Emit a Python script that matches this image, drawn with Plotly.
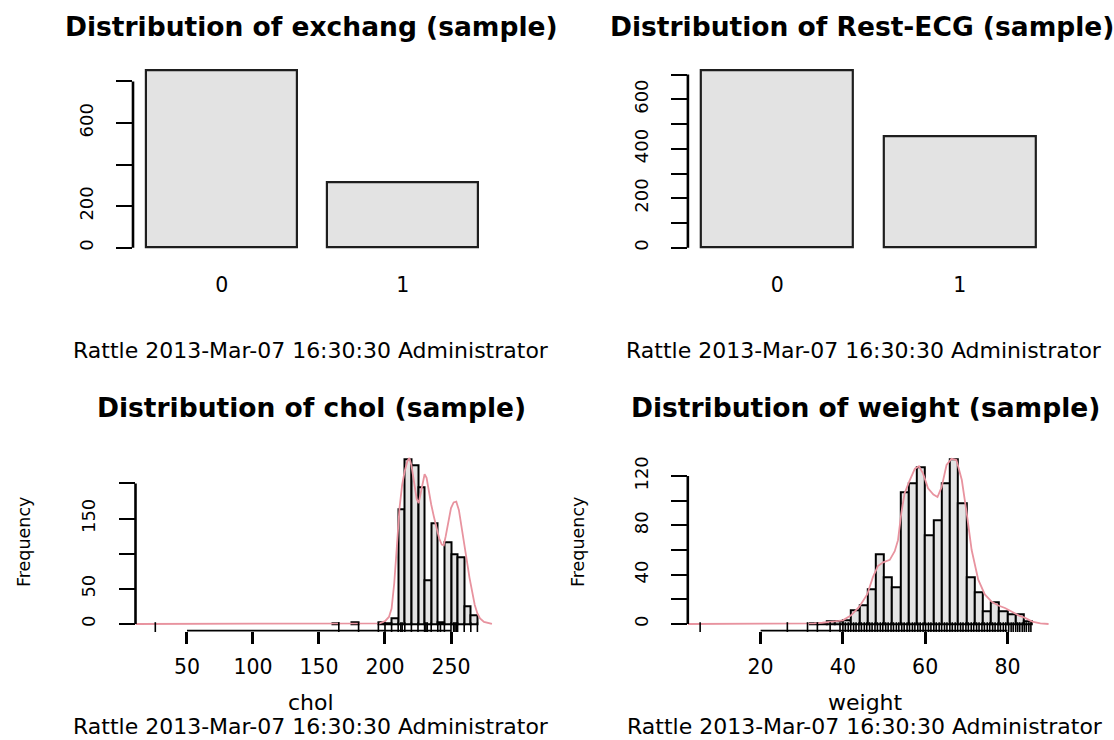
import plotly.graph_objects as go

W, H = 1114, 740
FONT = "DejaVu Sans"
BAR_FILL = "#E3E3E3"
BAR_EDGE = "#1E1E1E"
DENS_COLOR = "#E8939F"

# ---------------- data ----------------
exchang_levels = ["0", "1"]
exchang_counts = [853, 313]
exchang_yticks = [0, 200, 400, 600, 800]
exchang_yticklabels = ["0", "200", "", "600", ""]

restecg_levels = ["0", "1"]
restecg_counts = [717, 449]
restecg_yticks = [0, 100, 200, 300, 400, 500, 600, 700]
restecg_yticklabels = ["0", "", "200", "", "400", "", "600", ""]

chol_bin_left = [160, 175, 195, 200, 205, 210, 215, 220, 225, 230, 235, 240, 245, 250, 255, 260, 265]
chol_bin_width = 5
chol_counts = [1, 2, 3, 1, 8, 163, 235, 226, 194, 63, 143, 3, 116, 99, 95, 26, 13]
chol_density_x = [11, 190, 196, 200, 203, 205, 207, 209, 211, 213, 215, 217, 218.5, 220, 222, 224,
                  225.5, 227, 228.5, 230, 231.5, 233, 235, 237, 239, 241, 243, 244.5, 246, 248, 250,
                  252, 254, 256, 258, 260, 262, 264, 266, 268, 270, 272, 275, 278, 281]
chol_density_y = [0, 0, 1, 4, 10, 22, 58, 110, 165, 198, 218, 232, 236, 226, 200, 178,
                  172, 185, 203, 213, 208, 190, 170, 153, 135, 122, 113, 112, 125, 148, 165,
                  173, 174, 162, 140, 115, 90, 66, 44, 27, 15, 8, 3, 1, 0]
chol_rug = [26, 165, 180, 195, 200, 205, 210, 212, 213, 215, 220, 225, 230, 231, 232, 235,
            240, 242, 245, 250, 252, 253, 254, 255, 260, 265, 270]
chol_range = [11, 290]
chol_xticks = [50, 100, 150, 200, 250]
chol_yticks = [0, 50, 100, 150, 200]
chol_yticklabels = ["0", "50", "", "150", ""]

weight_bin_left = [32, 34, 36, 38, 40, 42, 44, 46, 48, 50, 52, 54, 56, 58, 60, 62, 64, 66, 68,
                   70, 72, 74, 76, 78, 80, 82, 84]
weight_bin_width = 2
weight_counts = [1, 1, 2, 2, 3, 11, 15, 28, 57, 38, 30, 107, 114, 127, 72, 84, 114, 134, 98,
                 38, 26, 10, 18, 10, 8, 8, 2]
weight_density_x = [2.3, 30, 33, 35, 37, 39, 40, 42, 44, 45.9, 47.3, 48.5, 49.8, 51.4, 52.6, 53.4,
                    54.2, 55, 56.3, 57.5, 58.5, 59.5, 60.7, 62, 63, 64, 65.2, 66.4, 67.6, 68.9,
                    70.1, 71.3, 72.9, 74.5, 76.2, 77.8, 79.4, 81.1, 82.7, 84.3, 86, 88, 90]
weight_density_y = [0, 0, 0.5, 1, 1.5, 2.5, 3, 7, 14, 24, 38, 47, 50, 52, 59, 68,
                    90, 106, 117, 126, 128, 122, 110, 105, 103, 111, 129, 134, 133, 117,
                    90, 60, 36, 24, 18, 15, 13, 10, 7, 5, 2, 0.5, 0]
weight_rug = [5.3, 26.5, 31.4, 33.8, 36.9, 39.3,
              40.0, 40.6, 41.3, 41.9, 42.6, 43.2, 43.9, 44.5, 45.2, 45.8, 46.5, 47.1, 47.8,
              48.4, 49.1, 49.7, 50.4, 51.0, 51.7, 52.3, 53.0, 53.6, 54.3, 54.9, 55.6, 56.2,
              56.9, 57.5, 58.2, 58.8, 59.5, 60.1, 60.8, 61.4, 62.1, 62.7, 63.4, 64.0, 64.7,
              65.3, 66.0, 66.6, 67.3, 67.9, 68.6, 69.2, 69.9, 70.5, 71.2, 71.8, 72.5, 73.1,
              73.8, 74.4, 75.1, 75.7, 76.4, 77.0, 77.7, 78.3, 79.0, 79.6, 80.3, 80.9, 81.4,
              82.0, 82.5, 83.0, 83.6, 84.1, 84.6, 85.2, 85.7]
weight_range = [2.3, 92]
weight_xticks = [20, 40, 60, 80]
weight_yticks = [0, 20, 40, 60, 80, 100, 120]
weight_yticklabels = ["0", "", "40", "", "80", "", "120"]

stamp = "Rattle 2013-Mar-07 16:30:30 Administrator"

# ---------------- panel geometry (pixels) ----------------
TOP_Y = (63.3, 254.8)
BOT_Y = (452.2, 630.6)


def dom_x(p0, p1):
    return [p0 / W, p1 / W]


def dom_y(p0, p1):
    return [1 - p1 / H, 1 - p0 / H]


fig = go.Figure()
layout = {}
shapes = []
annotations = []


def axis_keys(i):
    return ("xaxis" if i == 1 else f"xaxis{i}", "yaxis" if i == 1 else f"yaxis{i}",
            "x" if i == 1 else f"x{i}", "y" if i == 1 else f"y{i}")


def y_axis(ticks, labels, rng, domain, anchor):
    return dict(domain=domain, range=rng, anchor=anchor, showgrid=False, zeroline=False,
                showline=False, ticks="outside", ticklen=16, tickwidth=1.7, tickcolor="black",
                tickvals=ticks, ticktext=labels, tickangle=-90, ticklabelstandoff=16,
                tickfont=dict(family=FONT, size=18, color="black"), fixedrange=True)


def add_barplot(i, levels, counts, yticks, ylabels, xpix):
    xk, yk, xr, yr = axis_keys(i)
    n = len(levels)
    space, width = 0.2, 1.0
    lefts = [space + k * (width + space) for k in range(n)]
    centers = [l + width / 2 for l in lefts]
    lo, hi = lefts[0], lefts[-1] + width
    pad = 0.04 * (hi - lo)
    ymax = max(counts)
    fig.add_trace(go.Bar(x=centers, y=counts, width=[width] * n, xaxis=xr, yaxis=yr,
                         marker=dict(color=BAR_FILL, line=dict(color=BAR_EDGE, width=2.2)),
                         showlegend=False, hoverinfo="skip"))
    xd = dom_x(*xpix)
    layout[xk] = dict(domain=xd, range=[lo - pad, hi + pad], anchor=yr, showgrid=False,
                      zeroline=False, showline=False, ticks="", tickvals=centers,
                      ticktext=levels, ticklabelstandoff=16,
                      tickfont=dict(family=FONT, size=20.5, color="black"), fixedrange=True)
    layout[yk] = y_axis(yticks, ylabels, [-0.04 * ymax, 1.04 * ymax], dom_y(*TOP_Y), xr)
    shapes.append(dict(type="line", xref="paper", yref=yr, x0=xd[0], x1=xd[0],
                       y0=yticks[0], y1=yticks[-1], line=dict(color="black", width=2.6)))


def add_hist(i, lefts, bw, counts, dx, dy, rug, xrng, xticks, yticks, ylabels, xpix):
    xk, yk, xr, yr = axis_keys(i)
    ymax = max(counts)
    yrng = [-0.04 * ymax, 1.04 * ymax]
    fig.add_trace(go.Bar(x=[l + bw / 2 for l in lefts], y=counts, width=[bw] * len(lefts),
                         xaxis=xr, yaxis=yr,
                         marker=dict(color=BAR_FILL, line=dict(color="black", width=2.0)),
                         showlegend=False, hoverinfo="skip"))
    fig.add_trace(go.Scatter(x=dx, y=dy, mode="lines", xaxis=xr, yaxis=yr,
                             line=dict(color=DENS_COLOR, width=1.8),
                             showlegend=False, hoverinfo="skip"))
    # rug ticks rising from the bottom edge of the plot region
    px_per_unit = (BOT_Y[1] - BOT_Y[0]) / (yrng[1] - yrng[0])
    rug_len = 7
    rug_y = yrng[0] + (rug_len / 2) / px_per_unit
    fig.add_trace(go.Scatter(x=rug, y=[rug_y] * len(rug), mode="markers", xaxis=xr, yaxis=yr,
                             marker=dict(symbol="line-ns", size=rug_len, color="black",
                                         line=dict(color="black", width=1.6)),
                             cliponaxis=False, showlegend=False, hoverinfo="skip"))
    xd = dom_x(*xpix)
    yd = dom_y(*BOT_Y)
    layout[xk] = dict(domain=xd, range=xrng, anchor=yr, showgrid=False, zeroline=False,
                      showline=False, ticks="outside", ticklen=12, tickwidth=2.6,
                      tickcolor="black", tickvals=xticks, ticktext=[str(t) for t in xticks],
                      ticklabelstandoff=6,
                      tickfont=dict(family=FONT, size=20.5, color="black"), fixedrange=True)
    layout[yk] = y_axis(yticks, ylabels, yrng, yd, xr)
    shapes.append(dict(type="line", xref="paper", yref=yr, x0=xd[0], x1=xd[0],
                       y0=yticks[0], y1=yticks[-1], line=dict(color="black", width=2.6)))
    shapes.append(dict(type="line", xref=xr, yref="paper", x0=xticks[0], x1=xticks[-1],
                       y0=yd[0], y1=yd[0], line=dict(color="black", width=1.8)))


add_barplot(1, exchang_levels, exchang_counts, exchang_yticks, exchang_yticklabels, (133.0, 491.5))
add_barplot(2, restecg_levels, restecg_counts, restecg_yticks, restecg_yticklabels, (687.9, 1049.1))
add_hist(3, chol_bin_left, chol_bin_width, chol_counts, chol_density_x, chol_density_y, chol_rug,
         chol_range, chol_xticks, chol_yticks, chol_yticklabels, (135.5, 503.8))
add_hist(4, weight_bin_left, weight_bin_width, weight_counts, weight_density_x, weight_density_y,
         weight_rug, weight_range, weight_xticks, weight_yticks, weight_yticklabels, (687.8, 1056.8))


def note(text, x, y, size, anchor="center", angle=0):
    annotations.append(dict(text=text, x=x / W, y=1 - y / H, xref="paper", yref="paper",
                            xanchor=anchor, yanchor="middle", showarrow=False, textangle=angle,
                            font=dict(family=FONT, size=size, color="black")))


note("<b>Distribution of exchang (sample)</b>", 311, 27, 26.5)
note("<b>Distribution of Rest-ECG (sample)</b>", 608, 27, 26.5, anchor="left")
note("<b>Distribution of chol (sample)</b>", 311, 407, 26.5)
note("<b>Distribution of weight (sample)</b>", 865, 407, 26.5)
for cx, cy in [(311, 350), (864, 350), (311, 726), (865, 726)]:
    note(stamp, cx, cy, 22)
note("chol", 311, 702, 22)
note("weight", 865, 702, 22)
note("Frequency", 24, 542, 17.5, angle=-90)
note("Frequency", 578, 542, 17.5, angle=-90)

fig.update_layout(**layout)
fig.update_layout(width=W, height=H, margin=dict(l=0, r=0, t=0, b=0),
                  paper_bgcolor="white", plot_bgcolor="white", bargap=0,
                  shapes=shapes, annotations=annotations, showlegend=False)

fig.write_html("out.html", config={"displayModeBar": False})
